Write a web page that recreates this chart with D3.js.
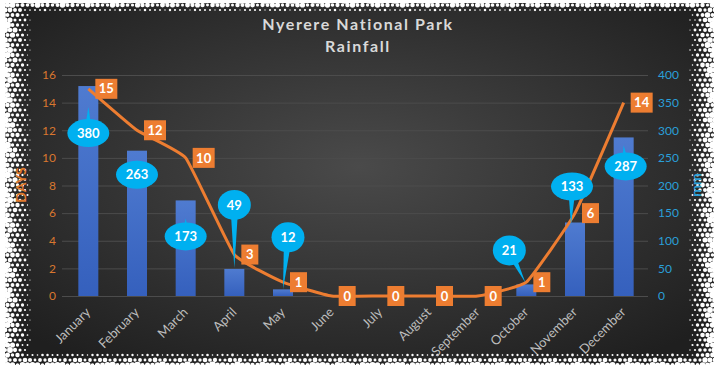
<!DOCTYPE html>
<html>
<head>
  <title>Nyerere National Park Rainfall</title>
  <script src="https://d3js.org/d3.v7.min.js"></script>
  <style>
    body { margin: 0; background: #fff; }
    svg { display: block; font-family: Lato, "Open Sans", sans-serif; }
    .grid line { stroke: #4c4c4c; stroke-width: 1; }
    .grid .domain { stroke: none; }
  </style>
</head>
<body>
<svg id="chart" width="719" height="369"></svg>
<script>
  // data
  const months = ["January", "February", "March", "April", "May", "June",
                  "July", "August", "September", "October", "November", "December"];
  const rainDays = [15, 12, 10, 3, 1, 0, 0, 0, 0, 1, 6, 14];
  const rainMm = [380, 263, 173, 49, 12, 0, 0, 0, 0, 21, 133, 287];
  const daysTicks = [0, 2, 4, 6, 8, 10, 12, 14, 16];
  const mmTicks = [0, 50, 100, 150, 200, 250, 300, 350, 400];

  // callout placement relative to bar top: [dx, dy, tipDx, tipDy] (layout only)
  const calloutLayout = [
    [0, 47, 0, 21], [0, 24, 0, 9], [0, 36, 0, 18], [0, -64, 0, -1],
    [5, -52, 0, 0], null, null, null, null,
    [-17, -34, -1, -2], [-3, -36, -4, 2], [2, 29, 0, 8]
  ];

  const W = 719, H = 369;
  const svg = d3.select("#chart");
  const defs = svg.append("defs");

  const bg = defs.append("radialGradient").attr("id", "bg")
      .attr("cx", "50%").attr("cy", "45%").attr("r", "65%");
  bg.append("stop").attr("offset", "0%").attr("stop-color", "#4a4a4a");
  bg.append("stop").attr("offset", "100%").attr("stop-color", "#1f1f1f");

  const barGrad = defs.append("linearGradient").attr("id", "bar")
      .attr("x1", 0).attr("y1", 0).attr("x2", 0).attr("y2", 1);
  barGrad.append("stop").attr("offset", "0%").attr("stop-color", "#4f7bd0");
  barGrad.append("stop").attr("offset", "100%").attr("stop-color", "#3560bd");

  svg.append("rect").attr("width", W).attr("height", H).attr("fill", "url(#bg)");

  // halftone frame (drawn under the chart text)
  const frame = svg.append("g").attr("fill", "#fff");
  const band = { l: 34, r: 33, t: 13, b: 19 };
  const step = 5;
  for (let row = 0; row * step <= H + step; row++) {
    const yy = row * step;
    const off = row % 2 ? step / 2 : 0;
    for (let xx = off; xx <= W + step; xx += step) {
      const t = Math.max(
        1 - xx / band.l, 1 - (W - xx) / band.r,
        1 - yy / band.t, 1 - (H - yy) / band.b);
      if (t <= 0) continue;
      const wobble = 0.75 + 0.25 * Math.sin(xx * 0.37 + yy * 0.71) * Math.cos(xx * 0.13 - yy * 0.29);
      const r = Math.min(3.8, 4.2 * Math.pow(t, 0.8) * wobble);
      if (r < 0.5) continue;
      frame.append("circle").attr("cx", xx).attr("cy", yy).attr("r", r);
    }
  }
  frame.append("path")
      .attr("fill-rule", "evenodd")
      .attr("d", `M0,0H${W}V${H}H0Z M5,3H${W - 5}V${H - 4}H5Z`);

  // scales
  const x = d3.scaleBand().domain(months).range([64, 648]).padding(0);
  const yL = d3.scaleLinear().domain([0, 16]).range([296, 75]);
  const yR = d3.scaleLinear().domain([0, 400]).range([296, 75]);
  const cx = m => x(m) + x.bandwidth() / 2;
  const barW = 20;

  // gridlines
  svg.append("g").attr("class", "grid")
      .attr("transform", "translate(62,0)")
      .call(d3.axisLeft(yL).tickValues(daysTicks).tickSize(-586).tickFormat(""));

  // axes
  const left = svg.append("g").attr("transform", "translate(62,0)")
      .call(d3.axisLeft(yL).tickValues(daysTicks).tickSize(0).tickPadding(6));
  left.select(".domain").remove();
  left.selectAll("text").attr("fill", "#d9772f").style("font-size", "12px")
      .style("font-family", "Lato, sans-serif");

  const right = svg.append("g").attr("transform", "translate(652,0)")
      .call(d3.axisRight(yR).tickValues(mmTicks).tickSize(0).tickPadding(6));
  right.select(".domain").remove();
  right.selectAll("text").attr("fill", "#2a9fd8").style("font-size", "12px")
      .style("font-family", "Lato, sans-serif");

  const bottom = svg.append("g").attr("transform", "translate(0,296)")
      .call(d3.axisBottom(x).tickSize(0).tickPadding(0));
  bottom.select(".domain").remove();
  bottom.selectAll("text")
      .attr("fill", "#bdbdbd").style("font-size", "13px")
      .style("font-family", "Lato, sans-serif")
      .attr("text-anchor", "end")
      .attr("dy", 0)
      .attr("transform", "translate(3,17) rotate(-45)");

  // axis titles
  svg.append("text").attr("transform", "translate(26,185) rotate(-90)")
      .attr("text-anchor", "middle").attr("fill", "#e07a2c")
      .style("font-size", "14px").style("font-weight", "bold").text("DAYS");
  svg.append("text").attr("transform", "translate(701,185) rotate(-90)")
      .attr("text-anchor", "middle").attr("fill", "#2a9fd8")
      .style("font-size", "14px").style("font-weight", "bold").text("mm");

  // title
  const title = svg.append("text").attr("text-anchor", "middle")
      .attr("fill", "#d9d9d9").style("font-size", "16px").style("font-weight", "bold")
      .style("letter-spacing", "1.6px");
  title.append("tspan").attr("x", 358).attr("y", 30).text("Nyerere National Park");
  title.append("tspan").attr("x", 358).attr("y", 52).text("Rainfall");

  // bars
  svg.append("g").selectAll("rect").data(months).join("rect")
      .attr("x", (m) => cx(m) - barW / 2)
      .attr("y", (m, i) => yR(rainMm[i]))
      .attr("width", barW)
      .attr("height", (m, i) => yR(0) - yR(rainMm[i]))
      .attr("fill", "url(#bar)");

  // days line
  const line = d3.line()
      .x((d, i) => cx(months[i]))
      .y(d => yL(d))
      .curve(d3.curveCardinal.tension(0.65));
  svg.append("path").datum(rainDays)
      .attr("d", line).attr("fill", "none")
      .attr("stroke", "#ed7d31").attr("stroke-width", 3);

  // callouts for rainfall
  const callouts = svg.append("g");
  months.forEach((m, i) => {
    const lay = calloutLayout[i];
    if (!lay) return;
    const bx = cx(m), by = yR(rainMm[i]);
    const ex = bx + lay[0], ey = by + lay[1];
    const tx = bx + lay[2], ty = by + lay[3];
    const label = String(rainMm[i]);
    const rx = label.length > 2 ? 21 : 16.5, ry = label.length > 2 ? 14 : 15;
    const ang = Math.atan2(ty - ey, tx - ex);
    const px = Math.cos(ang + Math.PI / 2) * 4, py = Math.sin(ang + Math.PI / 2) * 4;
    callouts.append("path")
        .attr("d", `M${ex + px},${ey + py} L${tx},${ty} L${ex - px},${ey - py} Z`)
        .attr("fill", "#00b0f0");
    callouts.append("ellipse")
        .attr("cx", ex).attr("cy", ey).attr("rx", rx).attr("ry", ry)
        .attr("fill", "#00b0f0");
    callouts.append("text")
        .attr("x", ex).attr("y", ey).attr("dy", "0.36em")
        .attr("text-anchor", "middle").attr("fill", "#fff")
        .style("font-size", "13px").style("font-weight", "bold")
        .text(label);
  });

  // day labels
  const dayLabels = svg.append("g");
  rainDays.forEach((d, i) => {
    const px = cx(months[i]), py = yL(d);
    const w = String(d).length > 1 ? 22 : 17;
    dayLabels.append("rect")
        .attr("x", px + 7).attr("y", py - 10)
        .attr("width", w).attr("height", 20)
        .attr("fill", "#ed7d31");
    dayLabels.append("text")
        .attr("x", px + 7 + w / 2).attr("y", py).attr("dy", "0.36em")
        .attr("text-anchor", "middle").attr("fill", "#fff")
        .style("font-size", "13px").style("font-weight", "bold")
        .text(d);
  });
</script>
</body>
</html>
